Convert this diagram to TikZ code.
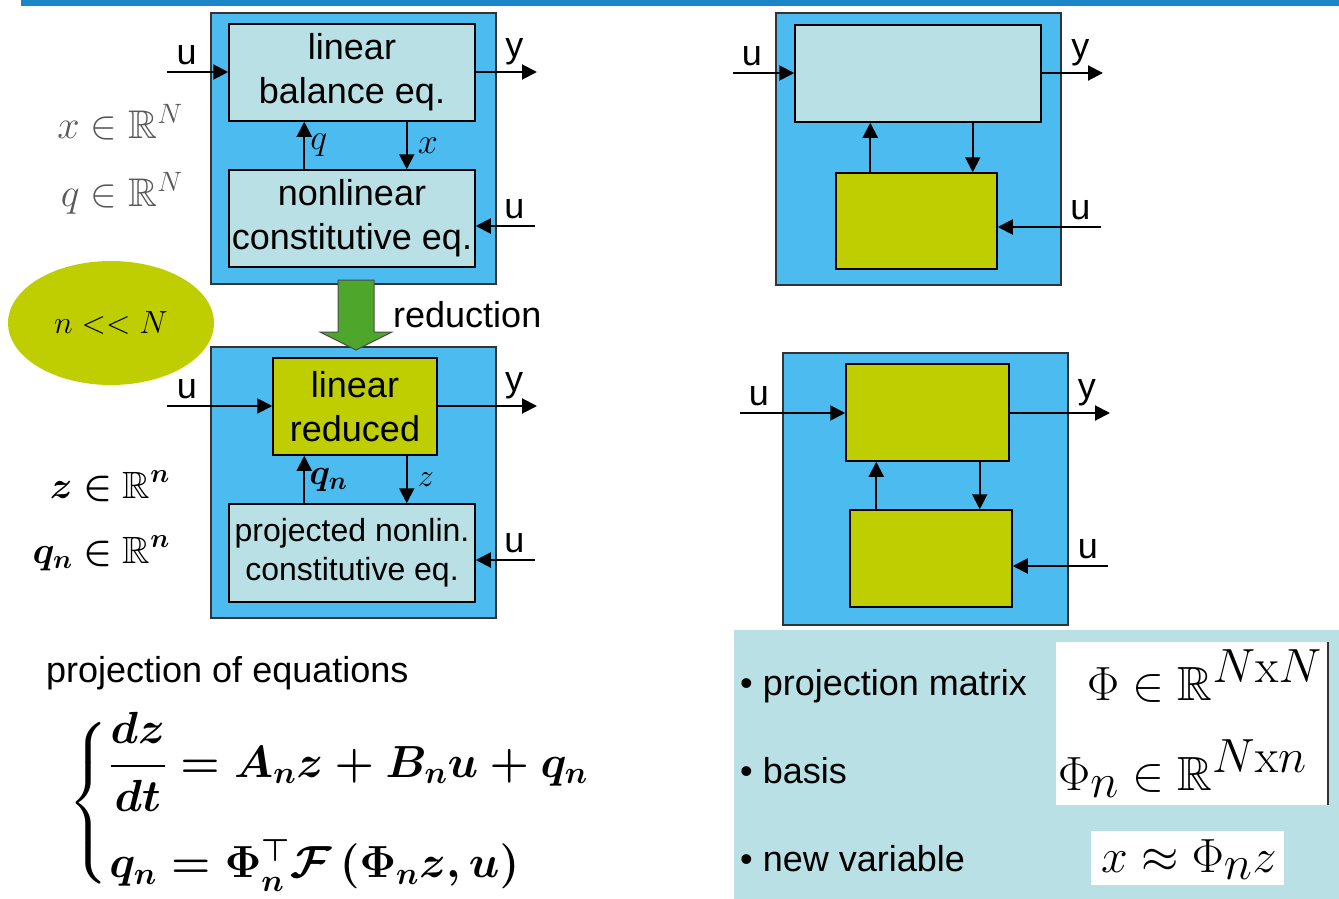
\RequirePackage{fix-cm}
\documentclass[tikz,border=0pt]{standalone}
\usepackage[no-math]{fontspec}
\setmainfont{Liberation Sans}
\usepackage{amsmath, amssymb, bm}
\definecolor{slideblue}{RGB}{26, 134, 200}
\definecolor{sysblue}{RGB}{75, 187, 240}
\definecolor{lincyan}{RGB}{185, 224, 228}
\definecolor{redolive}{RGB}{191, 206, 0}
\definecolor{redgreen}{RGB}{78, 167, 42}
\usetikzlibrary{arrows.meta, positioning, shapes.geometric}
\tikzset{
  % Outer system frame.
  sysbox/.style={
    rectangle, draw=black!80, line width=1.5pt,
    fill=sysblue,
    minimum width=285pt, minimum height=271pt,
  },
  % Inner block (#1 = fill).
  block/.style={
    rectangle, draw=black, line width=1.5pt,
    fill=#1,
    inner sep=1pt,
    align=center,
    font=\fontsize{36}{44}\selectfont,
  },
  block-cyan/.style ={block=lincyan},
  block-olive/.style={block=redolive},
  % Signal arrows.
  sig/.style={
    -{Triangle[length=15pt, width=15pt]},
    line width=2pt, draw=black,
  },
  sig-label/.style={font=\fontsize{36}{44}\selectfont, inner sep=0pt},
  var-label/.style={font=\fontsize{36}{44}\selectfont, inner sep=0pt},
  dim-label/.style={font=\fontsize{40}{48}\selectfont, inner sep=0pt},
  % Reduction arrow.
  reduce/.style={fill=redgreen, draw=black!70, line width=1pt},
  % Lower right panel.
  panel/.style={rectangle, fill=lincyan, minimum width=605pt, minimum height=269pt},
  whitebox/.style={rectangle, fill=white, inner sep=0pt},
  item/.style={font=\fontsize{36}{44}\selectfont, inner sep=0pt, anchor=base west},
  basis-math/.style={item, font=\fontsize{48}{56}\selectfont},
}

\begin{document}
\begin{tikzpicture}[x=1pt, y=-1pt]
  \useasboundingbox (0,0) rectangle (1339,899);
  \fill[slideblue] (21,0) rectangle (1339,6);

  % Full model.
  \node[sysbox] (sysA) at (353.5,148.5) {};
  \node[block-cyan, minimum width=246pt, minimum height=97pt] (linA) at (352,72.5) {linear\\balance eq.};
  \node[block-cyan, minimum width=246pt, minimum height=97pt] (nlA) at (352,218.5) {nonlinear\\constitutive eq.};
  \coordinate (A-in) at (167,72);
  \coordinate (A-out) at (537,72);
  \coordinate (A-u) at (535,226);
  \draw[sig] (A-in) -- node[sig-label, pos=.32, above=6pt] (A-in-lbl) {u} (A-in -| linA.west);
  \draw[sig] (A-in -| linA.east) -- node[sig-label, pos=.63, above=6pt] (A-out-lbl) {y} (A-out);
  \draw[sig] (A-u) -- node[sig-label, pos=.35, above=6pt] (A-u-lbl) {u} (A-u -| nlA.east);
  \draw[sig] ([xshift=76pt]nlA.north west) -- node[var-label, right=5pt] (A-q-lbl) {$q$} ([xshift=76pt]linA.south west);
  \draw[sig] ([xshift=-69pt]linA.south east) -- node[var-label, right=10pt] (A-x-lbl) {$x$} ([xshift=-69pt]nlA.north east);

  \node[dim-label, anchor=base east, text=black!65] (dimx) at (183,138) {$x \in \mathbb{R}^N$};
  \node[dim-label, anchor=base east, text=black!65] (dimq) at (183,206) {$q \in \mathbb{R}^N$};

  % Reduced model.
  \node[sysbox] (sysB) at (353.5,482.5) {};
  \node[block-olive, minimum width=164pt, minimum height=97pt] (linB) at (355,406.5) {linear\\reduced};
  \node[block-cyan, minimum width=246pt, minimum height=98pt, font=\fontsize{32}{39}\selectfont] (nlB) at (352,553) {projected nonlin.\\constitutive eq.};
  \coordinate (B-in) at (167,406);
  \coordinate (B-out) at (537,406);
  \coordinate (B-u) at (535,560);
  \draw[sig] (B-in) -- node[sig-label, pos=.19, above=6pt] (B-in-lbl) {u} (B-in -| linB.west);
  \draw[sig] (B-in -| linB.east) -- node[sig-label, pos=.77, above=6pt] (B-out-lbl) {y} (B-out);
  \draw[sig] (B-u) -- node[sig-label, pos=.35, above=6pt] (B-u-lbl) {u} (B-u -| nlB.east);
  \draw[sig] ([xshift=76pt]nlB.north west) -- node[var-label, right=4pt] (B-q-lbl) {$\bm{q_n}$} ([xshift=76pt]nlB.north west |- linB.south);
  \draw[sig] ([xshift=-69pt]nlB.north east |- linB.south) -- node[var-label, right=10pt, font=\fontsize{32}{40}\selectfont] (B-z-lbl) {$z$} ([xshift=-69pt]nlB.north east);

  \node[dim-label, anchor=base east, font=\fontsize{38}{46}\selectfont] (dimz) at (170,498) {$\bm{z \in \mathbb{R}^n}$};
  \node[dim-label, anchor=base east, font=\fontsize{38}{46}\selectfont] (dimqn) at (170,563) {$\bm{q_n \in \mathbb{R}^n}$};

  % Reduction step.
  \fill[reduce] (338,280) -- (374,280) -- (374,332) -- (392,332) -- (356,350)
    -- (320,332) -- (338,332) -- cycle;
  \node[sig-label, anchor=base west] (red-lbl) at (393,327) {reduction};
  \node[ellipse, fill=redolive, minimum width=206pt, minimum height=124pt,
        font=\fontsize{32}{38}\selectfont] (ratio) at (111,323) {$n << N$};

  % Structure, full model.
  \node[sysbox, minimum height=272pt] (sysC) at (918.5,149) {};
  \node[block-cyan, minimum width=246pt, minimum height=97pt] (linC) at (918,73.5) {};
  \node[block-olive, minimum width=161pt, minimum height=96pt] (nlC) at (916.5,221) {};
  \coordinate (C-in) at (733,73);
  \coordinate (C-out) at (1103,73);
  \coordinate (C-u) at (1101,227);
  \draw[sig] (C-in) -- node[sig-label, pos=.31, above=6pt] (C-in-lbl) {u} (C-in -| linC.west);
  \draw[sig] (C-in -| linC.east) -- node[sig-label, pos=.63, above=6pt] (C-out-lbl) {y} (C-out);
  \draw[sig] (C-u) -- node[sig-label, pos=.2, above=6pt] (C-u-lbl) {u} (C-u -| nlC.east);
  \draw[sig] ([xshift=35pt]nlC.north west) -- ([xshift=35pt]nlC.north west |- linC.south);
  \draw[sig] ([xshift=-69pt]linC.south east) -- ([xshift=-69pt]linC.south east |- nlC.north);

  % Structure, reduced model.
  \node[sysbox, minimum height=272pt] (sysD) at (925.5,489) {};
  \node[block-olive, minimum width=163pt, minimum height=97pt] (linD) at (927.5,412.5) {};
  \node[block-olive, minimum width=162pt, minimum height=97pt] (nlD) at (931,558.5) {};
  \coordinate (D-in) at (740,413);
  \coordinate (D-out) at (1110,413);
  \coordinate (D-u) at (1108,566);
  \draw[sig] (D-in) -- node[sig-label, pos=.18, above=6pt] (D-in-lbl) {u} (D-in -| linD.west);
  \draw[sig] (D-in -| linD.east) -- node[sig-label, pos=.77, above=6pt] (D-out-lbl) {y} (D-out);
  \draw[sig] (D-u) -- node[sig-label, pos=.21, above=6pt] (D-u-lbl) {u} (D-u -| nlD.east);
  \draw[sig] ([xshift=27pt]nlD.north west) -- ([xshift=27pt]nlD.north west |- linD.south);
  \draw[sig] ([xshift=-33pt]nlD.north east |- linD.south) -- ([xshift=-33pt]nlD.north east);

  % Projected equations.
  \node[item] (proj-lbl) at (46,682) {projection of equations};
  \node[anchor=west, inner sep=0pt, font=\fontsize{45}{54}\selectfont\boldmath] (eqs) at (68,803)
    {$\left\{\vcenter{\hbox{\rule{0pt}{150pt}}}\right.\!\begin{array}{@{}l@{}}
      \dfrac{dz}{dt} = A_n z + B_n u + q_n\\[46pt]
      q_n = \Phi_n^{\top}\mathcal{F}\left(\Phi_n z, u\right)
    \end{array}$};

  % Projection panel.
  \node[panel] (info) at (1036.5,764.5) {};
  \node[whitebox, minimum width=272pt, minimum height=163pt] (phibox) at (1192,723.5) {};
  \draw[line width=2pt, black!80] (phibox.north east) -- (phibox.south east);
  \node[whitebox, minimum width=193pt, minimum height=54pt] (zbox) at (1187.5,858) {};
  \node[item] (it-mat) at (740,695) {\textbullet\ projection matrix};
  \node[item] (it-bas) at (740,783) {\textbullet\ basis};
  \node[item] (it-var) at (740,871) {\textbullet\ new variable};
  \node[basis-math] (phi-mat) at (1087,700)
    {$\Phi \in \mathbb{R}^{\textstyle N\mathrm{x}N}$};
  \node[basis-math] (phi-bas) at (1058,790)
    {$\Phi_{\textstyle n} \in \mathbb{R}^{\textstyle N\mathrm{x}n}$};
  \node[basis-math] (phi-var) at (1101,872)
    {$x \approx \Phi_{\textstyle n} z$};
\end{tikzpicture}
\end{document}
